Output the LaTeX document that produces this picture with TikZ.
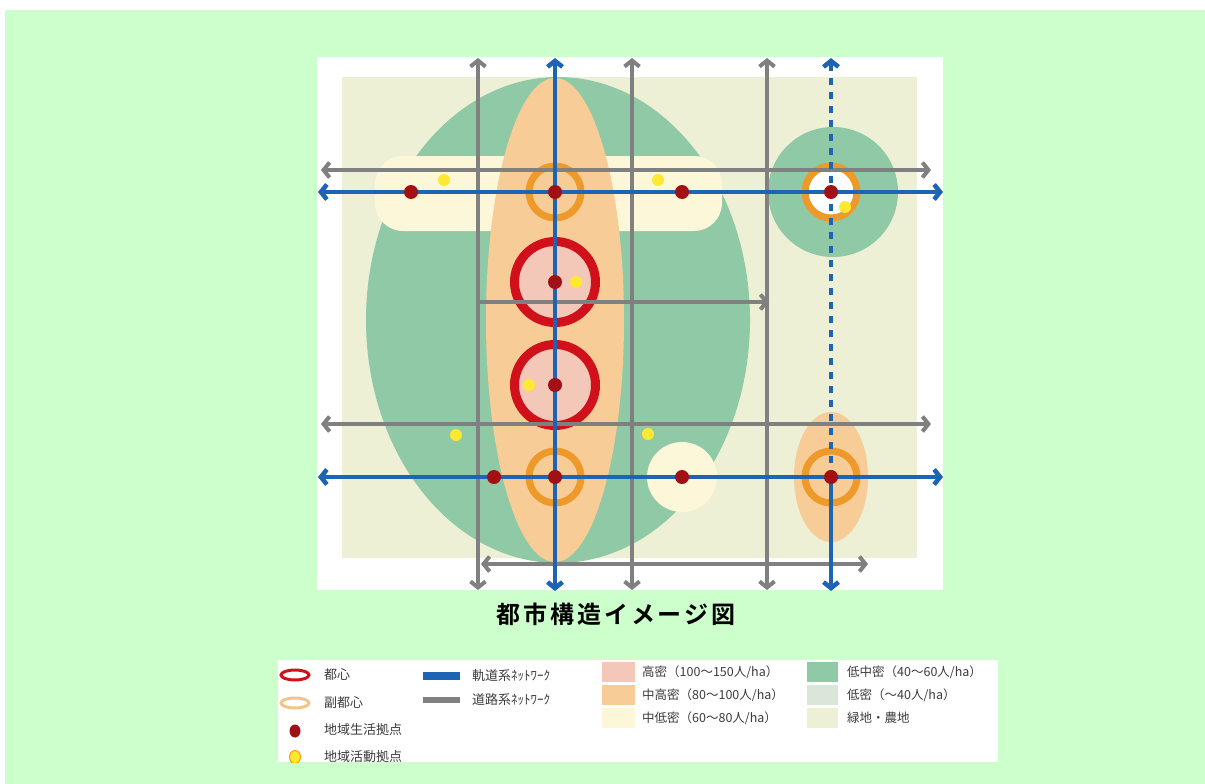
\documentclass[tikz,border=0pt]{standalone}
\usepackage{fontspec}
\setmainfont{Noto Sans CJK JP}[BoldFont={Noto Sans CJK JP Bold}]
\usetikzlibrary{arrows.meta}
\definecolor{bgg}{RGB}{204,255,204}
\definecolor{beige}{RGB}{238,240,214}
\definecolor{lgreen}{RGB}{143,201,166}
\definecolor{orangeF}{RGB}{248,204,150}
\definecolor{pinkF}{RGB}{244,200,184}
\definecolor{cream}{RGB}{253,247,218}
\definecolor{lowgray}{RGB}{218,230,216}
\definecolor{ringred}{RGB}{208,16,26}
\definecolor{dotred}{RGB}{160,16,20}
\definecolor{ringor}{RGB}{238,154,42}
\definecolor{ringorL}{RGB}{242,196,140}
\definecolor{dotyel}{RGB}{255,232,48}
\definecolor{railblue}{RGB}{30,100,180}
\definecolor{roadgray}{RGB}{128,128,128}
\definecolor{legtext}{RGB}{60,60,60}
\tikzset{
  rail/.style={draw=railblue, line width=4.5pt, {Straight Barb[length=6pt,width=15pt]}-{Straight Barb[length=6pt,width=15pt]}},
  road/.style={draw=roadgray, line width=4pt, {Straight Barb[length=6pt,width=15pt]}-{Straight Barb[length=6pt,width=15pt]}},
  roadR/.style={draw=roadgray, line width=4pt, -{Straight Barb[length=6pt,width=15pt]}},
  railup/.style={draw=railblue, line width=4.5pt, dash pattern=on 7pt off 7pt, -{Straight Barb[length=6pt,width=15pt]}},
  raildown/.style={draw=railblue, line width=4.5pt, -{Straight Barb[length=6pt,width=15pt]}},
  lifedot/.style={circle, fill=dotred, minimum size=14pt, inner sep=0pt},
  actdot/.style={circle, fill=dotyel, minimum size=12pt, inner sep=0pt},
  cityring/.style={draw=ringred, line width=9pt},
  subring/.style={draw=ringor, line width=7pt},
  legtxt/.style={anchor=west, text=legtext, inner sep=0pt, font=\fontsize{12.5}{14}\selectfont},
  legtxtL/.style={anchor=west, text=legtext, inner sep=0pt, font=\fontsize{13}{15}\selectfont},
}
\begin{document}
\begin{tikzpicture}[x=1pt,y=-1pt]
\useasboundingbox (0,0) rectangle (1205,784);
\fill[white] (0,0) rectangle (1205,784);
\fill[bgg] (5,10) rectangle (1205,784);
% map panel
\fill[white] (317,57) rectangle (943,590);
\fill[beige] (342,77) rectangle (917,558);
\fill[lgreen] (558,320) ellipse [x radius=192pt, y radius=243pt];
\fill[lgreen] (833,192) circle (65pt);
\fill[cream, rounded corners=28pt] (375,156) rectangle (722,231);
\fill[cream] (682,477) circle (35pt);
\fill[orangeF] (555,320) ellipse [x radius=69pt, y radius=242pt];
\fill[orangeF] (831,477) ellipse [x radius=37pt, y radius=65pt];
\fill[white] (831,192) circle (24pt);
% city centres
\fill[pinkF] (555,282) circle (37pt);
\fill[pinkF] (555,385) circle (37pt);
\draw[cityring] (555,282) circle (40.5pt);
\draw[cityring] (555,385) circle (40.5pt);
% sub centres
\draw[subring] (555,192) circle (26pt);
\draw[subring] (555,477) circle (26pt);
\draw[subring] (831,192) circle (26pt);
\draw[subring] (831,477) circle (26pt);
% line end coordinates
\coordinate (g1t) at (478,58);  \coordinate (g1b) at (478,590);
\coordinate (g2t) at (632,58);  \coordinate (g2b) at (632,590);
\coordinate (g3t) at (767,58);  \coordinate (g3b) at (767,590);
\coordinate (h1l) at (321,170); \coordinate (h1r) at (931,170);
\coordinate (h2l) at (321,424); \coordinate (h2r) at (931,424);
\coordinate (h3l) at (478,302); \coordinate (h3r) at (769,302);
\coordinate (h4l) at (481,564); \coordinate (h4r) at (868,564);
\coordinate (b1t) at (555,58);  \coordinate (b1b) at (555,591);
\coordinate (b2t) at (831,58);  \coordinate (b2m) at (831,477); \coordinate (b2b) at (831,591);
\coordinate (r1l) at (318,192); \coordinate (r1r) at (943,192);
\coordinate (r2l) at (318,477); \coordinate (r2r) at (943,477);
% road network
\draw[road] (g1t) -- (g1b);
\draw[road] (g2t) -- (g2b);
\draw[road] (g3t) -- (g3b);
\draw[road] (h1l) -- (h1r);
\draw[road] (h2l) -- (h2r);
\draw[roadR] (h3l) -- (h3r);
\draw[road] (h4l) -- (h4r);
% rail network
\draw[rail] (r1l) -- (r1r);
\draw[rail] (r2l) -- (r2r);
\draw[rail] (b1t) -- (b1b);
\draw[railup] (b2m) -- (b2t);
\draw[raildown] (b2m) -- (b2b);
% life hubs
\node[lifedot] (l1) at (411,192) {};
\node[lifedot] (l2) at (555,192) {};
\node[lifedot] (l3) at (682,192) {};
\node[lifedot] (l4) at (831,192) {};
\node[lifedot] (l5) at (555,282) {};
\node[lifedot] (l6) at (555,385) {};
\node[lifedot] (l7) at (494,477) {};
\node[lifedot] (l8) at (555,477) {};
\node[lifedot] (l9) at (682,477) {};
\node[lifedot] (l10) at (831,477) {};
% activity hubs
\node[actdot] (a1) at (444,180) {};
\node[actdot] (a2) at (658,180) {};
\node[actdot] (a3) at (576,282) {};
\node[actdot] (a4) at (529,385) {};
\node[actdot] (a5) at (456,435) {};
\node[actdot] (a6) at (648,434) {};
\node[actdot] (a7) at (845,207) {};
% title
\node[font=\fontsize{24}{28}\selectfont\bfseries\addfontfeature{LetterSpace=12}, inner sep=0pt] (title) at (616,614) {都市構造イメージ図};
% legend
\fill[white] (278,660) rectangle (998,762);
\begin{scope}
\clip (278,660) rectangle (998,762);
\draw[ringred, line width=3pt] (295,675) ellipse [x radius=14pt, y radius=5pt];
\draw[ringorL, line width=3pt] (295,703) ellipse [x radius=14pt, y radius=5pt];
\fill[dotred] (295,731) ellipse [x radius=5.5pt, y radius=6.5pt];
\fill[dotyel, draw=orange!80!yellow, line width=1pt] (295,757) ellipse [x radius=5.5pt, y radius=6.5pt];
\node[legtxtL] (t1) at (324,675) {都心};
\node[legtxtL] (t2) at (324,703) {副都心};
\node[legtxtL] (t3) at (324,730) {地域生活拠点};
\node[legtxtL] (t4) at (324,757) {地域活動拠点};
\fill[railblue] (423,672) rectangle (460,680);
\fill[roadgray] (423,697) rectangle (460,703);
\node[legtxtL] (t5) at (472,676) {軌道系ﾈｯﾄﾜｰｸ};
\node[legtxtL] (t6) at (472,700) {道路系ﾈｯﾄﾜｰｸ};
\fill[pinkF] (602,662) rectangle (635,682);
\fill[orangeF] (602,685) rectangle (635,705);
\fill[cream] (602,708) rectangle (635,728);
\node[legtxt] (t7) at (642,672) {高密（100～150人/ha）};
\node[legtxt] (t8) at (642,695) {中高密（80～100人/ha）};
\node[legtxt] (t9) at (642,718) {中低密（60～80人/ha）};
\fill[lgreen] (807,662) rectangle (838,682);
\fill[lowgray] (807,685) rectangle (838,705);
\fill[beige] (807,708) rectangle (838,728);
\node[legtxt] (t10) at (847,672) {低中密（40～60人/ha）};
\node[legtxt] (t11) at (847,695) {低密（～40人/ha）};
\node[legtxt] (t12) at (847,718) {緑地・農地};
\end{scope}
\end{tikzpicture}
\end{document}
